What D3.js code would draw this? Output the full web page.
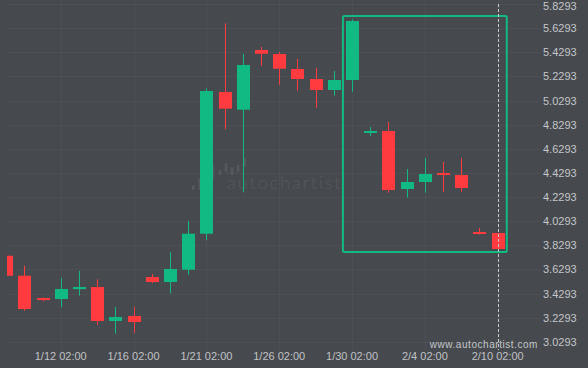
<!DOCTYPE html>
<html>
<head>
<meta charset="utf-8">
<script src="https://cdn.jsdelivr.net/npm/d3@7"></script>
<style>
  html, body { margin: 0; padding: 0; background: #46494e; }
  svg { display: block; }
</style>
</head>
<body>
<svg id="chart" width="588" height="368"></svg>
<script>
// Daily candles, oldest first
const opens  = [3.7431, 3.5772, 3.3923, 3.3840, 3.4660, 3.4835, 3.2016, 3.2431, 3.5664, 3.5250,
                3.6270, 3.9255, 5.1004, 4.9537, 5.4487, 5.4155, 5.2912, 5.2082, 5.1170, 5.1999,
                4.7605, 4.7771, 4.2961, 4.3542, 4.4288, 4.4122, 3.9396, 3.9313];
const highs  = [3.7500, 3.6601, 3.3950, 3.5582, 3.6162, 3.5474, 3.3177, 3.3177, 3.5913, 3.7737,
                4.0308, 5.1311, 5.6701, 5.4155, 5.4736, 5.4321, 5.3741, 5.2994, 5.2746, 5.7033,
                4.8102, 4.8517, 4.4620, 4.5532, 4.5200, 4.5532, 3.9727, 3.9313];
const lows   = [3.5750, 3.2870, 3.3650, 3.3152, 3.4114, 3.1684, 3.0963, 3.1046, 3.5167, 3.4313,
                3.5855, 3.8708, 4.7912, 4.2688, 5.3185, 5.1610, 5.1112, 4.9703, 5.0698, 5.1029,
                4.7356, 4.2655, 4.2240, 4.2655, 4.2737, 4.2737, 3.9205, 3.7986];
const closes = [3.5772, 3.3011, 3.3799, 3.4669, 3.4835, 3.2016, 3.2348, 3.1933, 3.5250, 3.6328,
                3.9255, 5.1087, 4.9620, 5.3243, 5.4180, 5.2936, 5.2082, 5.1170, 5.1999, 5.6892,
                4.7771, 4.2878, 4.3542, 4.4205, 4.4122, 4.3044, 3.9313, 3.7986];

// Time axis labels and the candle each one sits under
const tickIndex  = [3, 7, 11, 15, 19, 23, 27];
const tickLabels = ["1/12 02:00", "1/16 02:00", "1/21 02:00", "1/26 02:00", "1/30 02:00", "2/4 02:00", "2/10 02:00"];

// Price axis labels
const priceTicks = [3.0293, 3.2293, 3.4293, 3.6293, 3.8293, 4.0293, 4.2293, 4.4293,
                    4.6293, 4.8293, 5.0293, 5.2293, 5.4293, 5.6293, 5.8293];

// Pattern box: candle span and price span
const boxIndex = [18.5, 27.5];
const boxPrice = [3.7737, 5.7306];
// Current candle marker
const markerIndex = 27;

const GREEN = "#10ba82", RED = "#ff3b3f";

const svg = d3.select("#chart");
const x = d3.scaleLinear().domain([0, 27]).range([6.1, 497.7]);
const y = d3.scaleLinear().domain([3.0293, 5.8293]).range([341.8, 4.1]);

svg.append("rect").attr("width", 588).attr("height", 368).attr("fill", "#46494e");

svg.append("defs").append("clipPath").attr("id", "plot")
  .append("rect").attr("x", 7).attr("y", 0).attr("width", 533).attr("height", 352);

// faint grid
const grid = svg.append("g").attr("stroke", "rgba(255,255,255,0.035)").attr("stroke-width", 1);
grid.selectAll("line.h").data(priceTicks).join("line")
  .attr("x1", 7).attr("x2", 540)
  .attr("y1", d => Math.round(y(d)) + 0.5).attr("y2", d => Math.round(y(d)) + 0.5);
grid.selectAll("line.v").data(tickIndex).join("line")
  .attr("x1", d => Math.round(x(d)) + 0.5).attr("x2", d => Math.round(x(d)) + 0.5)
  .attr("y1", 0).attr("y2", 350);

// watermark
const wm = svg.append("g").attr("fill", "#55595e");
const logoBars = [[192, 185, 190], [198.5, 178, 190], [211.5, 166, 178], [218.5, 170, 175],
                  [224.7, 163, 172], [230.7, 167, 175], [236.7, 165, 172], [243.3, 158, 167]];
wm.selectAll("rect").data(logoBars).join("rect")
  .attr("x", d => d[0]).attr("y", d => d[1]).attr("width", 2.7).attr("height", d => d[2] - d[1]).attr("rx", 1);
wm.append("text").attr("x", 227).attr("y", 189)
  .attr("font-family", "Lato, 'DejaVu Sans', sans-serif").attr("font-weight", 300)
  .attr("font-size", 18.5).attr("letter-spacing", 1.7).text("autochartist");

// candles
const data = opens.map((o, i) => ({ i, o, h: highs[i], l: lows[i], c: closes[i] }));
const candles = svg.append("g").attr("clip-path", "url(#plot)");
const g = candles.selectAll("g").data(data).join("g");
g.append("line")
  .attr("x1", d => Math.round(x(d.i)) + 0.5).attr("x2", d => Math.round(x(d.i)) + 0.5)
  .attr("y1", d => y(d.h)).attr("y2", d => y(d.l))
  .attr("stroke", d => d.c >= d.o ? GREEN : RED).attr("stroke-width", 1);
g.append("rect")
  .attr("x", d => Math.round(x(d.i)) + 0.5 - 6.5).attr("width", 13)
  .attr("y", d => Math.min(y(d.o), y(d.c)))
  .attr("height", d => Math.max(2, Math.abs(y(d.o) - y(d.c))))
  .attr("fill", d => d.c >= d.o ? GREEN : RED);

// pattern box
svg.append("rect")
  .attr("x", x(boxIndex[0])).attr("y", y(boxPrice[1]))
  .attr("width", x(boxIndex[1]) - x(boxIndex[0]))
  .attr("height", y(boxPrice[0]) - y(boxPrice[1]))
  .attr("rx", 1.5)
  .attr("fill", "none").attr("stroke", GREEN).attr("stroke-width", 2);

// current time marker
svg.append("line")
  .attr("x1", Math.round(x(markerIndex)) + 0.5).attr("x2", Math.round(x(markerIndex)) + 0.5)
  .attr("y1", 4).attr("y2", 350)
  .attr("stroke", "#c9cbce").attr("stroke-width", 1).attr("stroke-dasharray", "3,2");

// price axis (top label kept inside the frame)
svg.append("g").selectAll("text").data(priceTicks).join("text")
  .attr("x", 543).attr("y", d => Math.max(y(d), 5.6)).attr("dy", "0.36em")
  .attr("font-family", "'Liberation Sans', Arial, sans-serif").attr("font-size", 11)
  .attr("fill", "#c4c6c9").text(d => d.toFixed(4));

// time axis
svg.append("g").selectAll("text").data(tickIndex).join("text")
  .attr("x", d => x(d)).attr("y", 360)
  .attr("text-anchor", "middle")
  .attr("font-family", "'Liberation Sans', Arial, sans-serif").attr("font-size", 11)
  .attr("fill", "#c0c2c5").text((d, k) => tickLabels[k]);

svg.append("text").attr("x", 538).attr("y", 348).attr("text-anchor", "end")
  .attr("font-family", "'Liberation Sans', Arial, sans-serif").attr("font-size", 10)
  .attr("letter-spacing", 0.55).attr("fill", "#c4c6c9").text("www.autochartist.com");
</script>
</body>
</html>
